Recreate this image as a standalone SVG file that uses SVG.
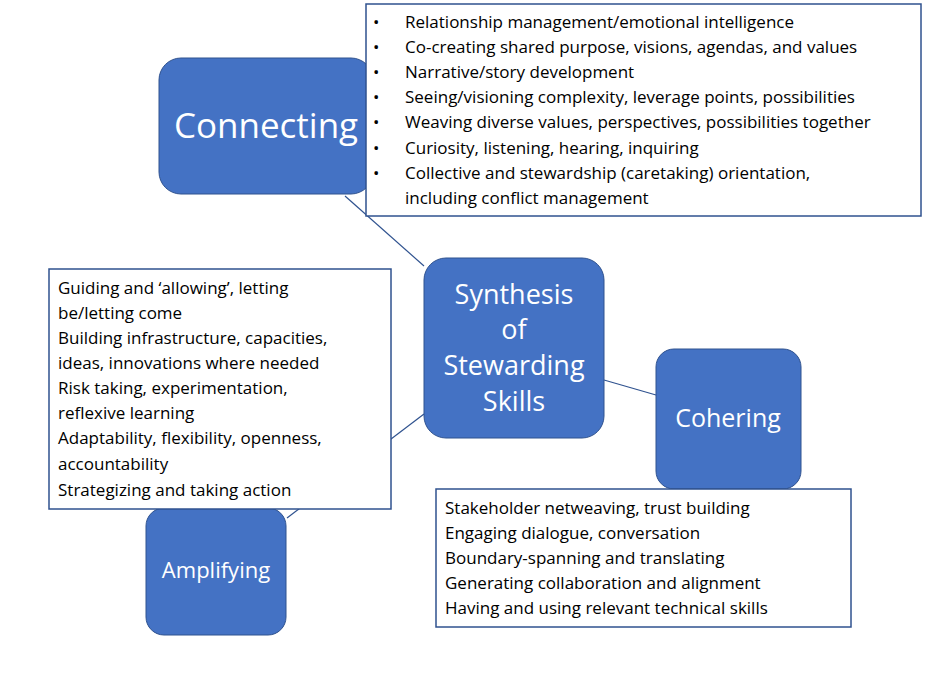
<svg xmlns="http://www.w3.org/2000/svg" width="936" height="676" viewBox="0 0 936 676">
<style>
.n{fill:#4472C4;stroke:#2F528F;stroke-width:1}
.nt{fill:#fff;font-family:"Open Sans","Liberation Sans",sans-serif;text-anchor:middle}
.b{fill:#fff;stroke:#2F528F;stroke-width:1.5}
.t{font-family:"Open Sans","Liberation Sans",sans-serif;font-size:17px;fill:#000}
.c{stroke:#2F528F;stroke-width:1.2;fill:none}
</style>
<rect width="936" height="676" fill="#fff"/>
<g id="connectors">
<line class="c" x1="345" y1="196" x2="424" y2="266"/>
<line class="c" x1="604" y1="380" x2="656" y2="395"/>
<line class="c" x1="287" y1="518" x2="424" y2="414"/>
</g>
<g id="connecting">
<rect class="n" x="159" y="58" width="214" height="136" rx="22"/>
<text class="nt" x="266" y="138" font-size="35">Connecting</text>
</g>
<g id="connecting-skills">
<rect class="b" x="366" y="4" width="555" height="212"/>
<g class="t">
<text x="373" y="28">•</text><text x="405" y="28">Relationship management/emotional intelligence</text>
<text x="373" y="53">•</text><text x="405" y="53">Co-creating shared purpose, visions, agendas, and values</text>
<text x="373" y="78">•</text><text x="405" y="78">Narrative/story development</text>
<text x="373" y="103">•</text><text x="405" y="103">Seeing/visioning complexity, leverage points, possibilities</text>
<text x="373" y="128">•</text><text x="405" y="128">Weaving diverse values, perspectives, possibilities together</text>
<text x="373" y="154">•</text><text x="405" y="154">Curiosity, listening, hearing, inquiring</text>
<text x="373" y="179">•</text><text x="405" y="179">Collective and stewardship (caretaking) orientation,</text>
<text x="405" y="204">including conflict management</text>
</g>
</g>
<g id="synthesis">
<rect class="n" x="424" y="258" width="180" height="180" rx="22"/>
<text class="nt" font-size="27"><tspan x="514" y="304">Synthesis</tspan><tspan x="514" y="339">of</tspan><tspan x="514" y="375">Stewarding</tspan><tspan x="514" y="411">Skills</tspan></text>
</g>
<g id="cohering">
<rect class="n" x="656" y="349" width="145" height="140" rx="18"/>
<text class="nt" x="728" y="427" font-size="25">Cohering</text>
</g>
<g id="amplifying">
<rect class="n" x="146" y="508" width="140" height="127" rx="18"/>
<text class="nt" x="216" y="578" font-size="22">Amplifying</text>
</g>
<g id="amplifying-skills">
<rect class="b" x="49" y="269" width="342" height="240"/>
<g class="t">
<text x="58" y="294">Guiding and ‘allowing’, letting</text>
<text x="58" y="319">be/letting come</text>
<text x="58" y="344">Building infrastructure, capacities,</text>
<text x="58" y="369">ideas, innovations where needed</text>
<text x="58" y="394">Risk taking, experimentation,</text>
<text x="58" y="419">reflexive learning</text>
<text x="58" y="444">Adaptability, flexibility, openness,</text>
<text x="58" y="470">accountability</text>
<text x="58" y="496">Strategizing and taking action</text>
</g>
</g>
<g id="cohering-skills">
<rect class="b" x="436" y="489" width="415" height="138"/>
<g class="t">
<text x="445" y="514">Stakeholder netweaving, trust building</text>
<text x="445" y="539">Engaging dialogue, conversation</text>
<text x="445" y="564">Boundary-spanning and translating</text>
<text x="445" y="589">Generating collaboration and alignment</text>
<text x="445" y="614">Having and using relevant technical skills</text>
</g>
</g>
</svg>
